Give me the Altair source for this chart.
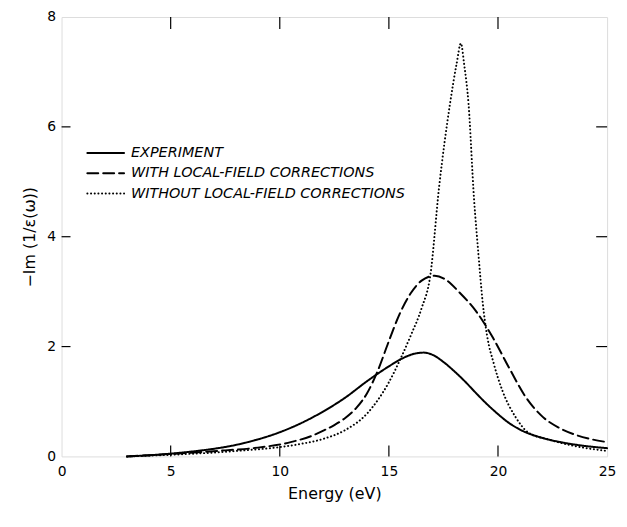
import altair as alt
import pandas as pd

# Experiment (solid)
exp_x = [3, 4, 5, 6, 7, 8, 9, 10, 11, 12, 13, 14, 15, 15.5, 16, 16.6, 17, 17.5, 18, 18.5, 19, 19.5, 20, 20.5, 21, 22, 23, 24, 25]
exp_y = [0, 0.02, 0.05, 0.09, 0.14, 0.21, 0.31, 0.44, 0.61, 0.82, 1.07, 1.37, 1.64, 1.76, 1.85, 1.89, 1.85, 1.72, 1.55, 1.36, 1.15, 0.95, 0.77, 0.61, 0.49, 0.34, 0.25, 0.19, 0.15]

# With local-field corrections (dashed)
lfc_x = [3, 6, 7.5, 9, 10.5, 11.5, 12, 12.5, 13, 13.5, 14, 14.5, 15, 15.5, 16, 16.5, 17.1, 17.6, 18.2, 19.0, 19.77, 20.5, 21.27, 22.05, 22.8, 23.5, 24.2, 25]
lfc_y = [0, 0.07, 0.11, 0.16, 0.26, 0.38, 0.47, 0.57, 0.7, 0.88, 1.15, 1.57, 2.1, 2.6, 2.97, 3.2, 3.29, 3.22, 3.0, 2.64, 2.16, 1.62, 1.08, 0.72, 0.52, 0.4, 0.32, 0.26]

# Without local-field corrections (dotted)
nolfc_x = [3, 5, 6, 7, 8, 9, 10, 11, 12, 13, 14, 14.5, 15, 15.5, 16, 16.5, 16.9, 17.3, 17.8, 18.1, 18.3, 18.45, 18.65, 18.9, 19.1, 19.3, 19.5, 19.8, 20.2, 20.8, 21.4, 22.3, 23.5, 25]
nolfc_y = [0, 0.03, 0.05, 0.07, 0.1, 0.13, 0.17, 0.23, 0.32, 0.48, 0.78, 1.03, 1.35, 1.75, 2.2, 2.7, 3.3, 4.9, 6.42, 7.14, 7.52, 7.14, 6.42, 4.7, 3.7, 2.8, 2.2, 1.7, 1.2, 0.72, 0.43, 0.31, 0.19, 0.1]

series_names = ["EXPERIMENT", "WITH LOCAL-FIELD CORRECTIONS", "WITHOUT LOCAL-FIELD CORRECTIONS"]
legend_rows = [0, 1, 2]

x_ticks = [5, 10, 15, 20]
y_ticks = [2, 4, 6]
x_labels = [0, 5, 10, 15, 20, 25]
y_labels = [0, 2, 4, 6, 8]

rows = []
for name, xs, ys in zip(series_names, [exp_x, lfc_x, nolfc_x], [exp_y, lfc_y, nolfc_y]):
    for i, (a, b) in enumerate(zip(xs, ys)):
        rows.append({"series": name, "E": a, "v": b, "order": i})
df = pd.DataFrame(rows)
leg = pd.DataFrame({"series": series_names, "row": legend_rows})

W, H = 550, 443
FONT = "DejaVu Sans"

xscale = alt.Scale(domain=[0, 25], nice=False)
yscale = alt.Scale(domain=[0, 8], nice=False)
dash_scale = alt.Scale(domain=series_names, range=[[1, 0], [11, 5], [0.1, 3.6]])
width_scale = alt.Scale(domain=series_names, range=[2, 2, 2.6])

lines = alt.Chart(df).mark_line(interpolate="monotone", color="black", strokeCap="round").encode(
    x=alt.X("E:Q", scale=xscale, title="Energy (eV)",
            axis=alt.Axis(values=x_labels, ticks=False, domain=False, grid=False, labelFlush=False,
                          labelFontSize=14, labelPadding=8, titleFontSize=16, titlePadding=7,
                          labelFont=FONT, titleFont=FONT, labelColor="black", titleColor="black",
                          titleFontWeight="normal", format="d")),
    y=alt.Y("v:Q", scale=yscale, title="−Im (1/ε(ω))",
            axis=alt.Axis(values=y_labels, ticks=False, domain=False, grid=False, labelFlush=False,
                          labelFontSize=14, labelPadding=6, titleFontSize=16, titlePadding=9,
                          labelFont=FONT, titleFont=FONT, labelColor="black", titleColor="black",
                          titleFontWeight="normal", format="d")),
    strokeDash=alt.StrokeDash("series:N", scale=dash_scale, legend=None),
    strokeWidth=alt.StrokeWidth("series:N", scale=width_scale, legend=None),
    order="order:Q",
)

row_scale = alt.Scale(domain=[0, 2], range=[137, 178])

leg_lines = alt.Chart(leg).mark_rule(color="black", strokeCap="round").encode(
    x=alt.value(26), x2=alt.value(63),
    y=alt.Y("row:Q", scale=row_scale, axis=None),
    strokeDash=alt.StrokeDash("series:N", scale=dash_scale, legend=None),
    strokeWidth=alt.StrokeWidth("series:N", scale=width_scale, legend=None),
)
leg_text = alt.Chart(leg).mark_text(align="left", baseline="middle", font=FONT, fontSize=14.5,
                                    fontStyle="italic", color="black").encode(
    x=alt.value(70),
    y=alt.Y("row:Q", scale=row_scale, axis=None),
    text="series:N",
)

xt = pd.DataFrame({"E": x_ticks})
yt = pd.DataFrame({"v": y_ticks})

bottom_ticks = alt.Chart(xt).mark_rule(color="black", strokeWidth=1.2).encode(
    x=alt.X("E:Q", scale=xscale), y=alt.value(H), y2=alt.value(H - 11))
top_ticks = alt.Chart(xt).mark_rule(color="black", strokeWidth=1.2).encode(
    x=alt.X("E:Q", scale=xscale), y=alt.value(0), y2=alt.value(12))
left_ticks = alt.Chart(yt).mark_rule(color="black", strokeWidth=1.2).encode(
    y=alt.Y("v:Q", scale=yscale), x=alt.value(0), x2=alt.value(9))
right_ticks = alt.Chart(yt).mark_rule(color="black", strokeWidth=1.2).encode(
    y=alt.Y("v:Q", scale=yscale), x=alt.value(W), x2=alt.value(W - 11))

main = alt.layer(lines, bottom_ticks, top_ticks, left_ticks, right_ticks)
legend_layer = alt.layer(leg_lines, leg_text)

chart = alt.layer(main, legend_layer).resolve_scale(y="independent").properties(
    width=W, height=H,
    autosize=alt.AutoSizeParams(type="none"),
    padding={"left": 54, "top": 7, "right": 12, "bottom": 60},
).configure_view(stroke="black", strokeWidth=1.5).configure(background="white")

chart.save("out.html", embed_options={"renderer": "svg", "actions": False})
